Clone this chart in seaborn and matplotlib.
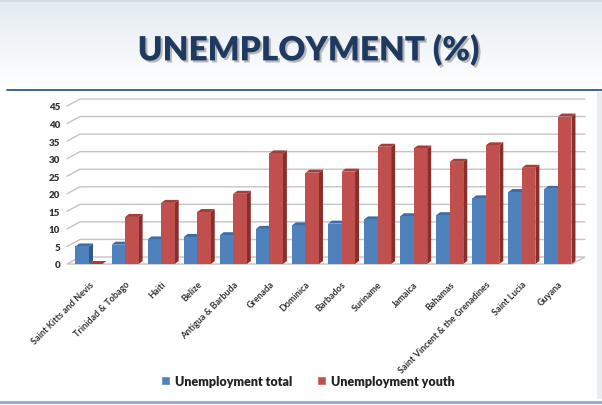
import numpy as np
import pandas as pd
import matplotlib
matplotlib.use("Agg")
import matplotlib.pyplot as plt
import matplotlib.patheffects as pe
from matplotlib.patches import Polygon
from matplotlib.lines import Line2D
import seaborn as sns

# ---- data -------------------------------------------------------------
countries = [
    "Saint Kitts and Nevis", "Trinidad & Tobago", "Haiti", "Belize",
    "Antigua & Barbuda", "Grenada", "Dominica", "Barbados", "Suriname",
    "Jamaica", "Bahamas", "Saint Vincent & the Grenadines", "Saint Lucia",
    "Guyana",
]
unemployment_total = [5.0, 5.5, 7.0, 7.7, 8.2, 10.0, 11.0, 11.5, 12.7, 13.6,
                      13.9, 18.7, 20.5, 21.4]
unemployment_youth = [0.0, 13.4, 17.4, 14.8, 20.0, 31.5, 26.0, 26.3, 33.4,
                      32.9, 29.1, 33.8, 27.4, 42.0]
series_names = ["Unemployment total", "Unemployment youth"]
y_ticks = [0, 5, 10, 15, 20, 25, 30, 35, 40, 45]
title = "UNEMPLOYMENT (%)"

df = pd.DataFrame({
    "country": countries * 2,
    "value": unemployment_total + unemployment_youth,
    "series": [series_names[0]] * len(countries) + [series_names[1]] * len(countries),
})

# ---- styling ----------------------------------------------------------
sns.set_theme(style="white")
plt.rcParams["font.family"] = ["Lato", "DejaVu Sans"]

W, H, DPI = 602, 406, 100
front = ["#4F81BD", "#C0504D"]
side = ["#2E5A8E", "#8A2E2C"]
top = ["#3D6CA6", "#A53E3B"]
grid_col = "#C4C4C4"
label_col = "#333333"

fig = plt.figure(figsize=(W / DPI, H / DPI), dpi=DPI)

# page background: soft header gradient, frame lines, right strip
bg = np.ones((H, W, 3))
hdr_top = np.array([0.89, 0.92, 0.95])
for r in range(0, 88):
    t = r / 88.0
    bg[r, :, :] = hdr_top * (1 - t) + np.array([1.0, 1.0, 1.0]) * t
bg[0:3, :, :] = np.array([0.84, 0.86, 0.89])
bg[93:400, 597:, :] = np.array([0.91, 0.93, 0.96])
ax_bg = fig.add_axes([0, 0, 1, 1], zorder=-5)
ax_bg.imshow(bg, aspect="auto", extent=(0, W, H, 0))
ax_bg.plot([7, W], [91, 91], color="#3F6596", lw=1.4)
ax_bg.plot([0, W], [403, 403], color="#8EA8CF", lw=2.0)
ax_bg.set_xlim(0, W)
ax_bg.set_ylim(H, 0)
ax_bg.axis("off")

fig.text(309 / W, 1 - 51 / H, title, ha="center", va="center",
         fontsize=24, fontweight="heavy", color="#1F3A60",
         path_effects=[pe.SimplePatchShadow(offset=(1.5, -1.5),
                                            shadow_rgbFace="#6A6A6A", alpha=0.45),
                       pe.Normal()])

# ---- chart ------------------------------------------------------------
ax_l, ax_r, ax_t, ax_b = 67, 572, 107, 265
ax = fig.add_axes([ax_l / W, 1 - ax_b / H, (ax_r - ax_l) / W, (ax_b - ax_t) / H])
ax.set_facecolor("none")

sns.barplot(data=df, x="country", y="value", hue="series", palette=front,
            width=0.75, saturation=1, ax=ax, zorder=4)

xl, xr = -0.61, 13.39
ax.set_xlim(xl, xr)
ax.set_ylim(0, 45)
sx = (ax_r - ax_l) / (xr - xl)      # pixels per category
sy = (ax_b - ax_t) / 45.0           # pixels per unit

# depth offsets (in data units)
bdx, bdy = 4 / sx, 3 / sy           # bar depth
wdx, wdy = 13 / sx, 7 / sy          # back-wall depth

# floor
ax.add_patch(Polygon([(xl, 0), (xr, 0), (xr + wdx, wdy), (xl + wdx, wdy)],
                     closed=True, facecolor="white", edgecolor=grid_col,
                     lw=1.0, zorder=1, clip_on=False))
# gridlines on side and back wall
for v in y_ticks[1:]:
    ax.add_line(Line2D([xl, xl + wdx, xr + wdx], [v, v + wdy, v + wdy],
                       color=grid_col, lw=1.0, zorder=0.5, clip_on=False))

# 3-D caps and side faces derived from each bar
for i, cont in enumerate(ax.containers):
    for p in cont.patches:
        p.set_zorder(4)
        p.set_edgecolor("none")
        x0, w, h = p.get_x(), p.get_width(), p.get_height()
        x1 = x0 + w
        ax.add_patch(Polygon([(x1, 0), (x1, h), (x1 + bdx, h + bdy), (x1 + bdx, bdy)],
                             closed=True, facecolor=side[i], edgecolor="none",
                             zorder=3, clip_on=False))
        ax.add_patch(Polygon([(x0, h), (x1, h), (x1 + bdx, h + bdy), (x0 + bdx, h + bdy)],
                             closed=True, facecolor=top[i], edgecolor="none",
                             zorder=3, clip_on=False))

for s in ax.spines.values():
    s.set_visible(False)
ax.grid(False)
ax.set_yticks(y_ticks)
ax.set_yticklabels([str(v) for v in y_ticks], fontsize=7, fontweight="heavy",
                   color=label_col)
ax.tick_params(axis="y", length=0, pad=5)
ax.tick_params(axis="x", length=0, pad=11)
ax.set_xticks(range(len(countries)))
ax.set_xticklabels(countries, rotation=45, ha="right", va="top",
                   rotation_mode="anchor", fontsize=6.5, fontweight="bold",
                   color=label_col)
ax.set_xlabel("")
ax.set_ylabel("")

sns.move_legend(ax, "center", bbox_to_anchor=(308 / W, 1 - 382 / H),
                bbox_transform=fig.transFigure, ncol=2, frameon=False,
                title=None, handlelength=0.7, handleheight=0.7,
                handletextpad=0.4, columnspacing=2.0,
                prop={"size": 9, "weight": "heavy"})
for t in ax.get_legend().get_texts():
    t.set_color("#222222")

fig.savefig("out.png", dpi=DPI)
